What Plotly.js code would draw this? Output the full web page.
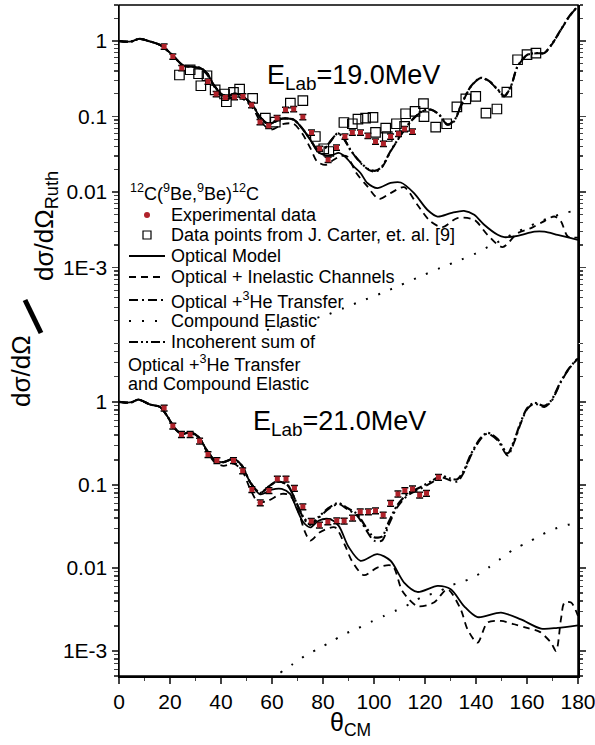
<!DOCTYPE html>
<html><head><meta charset="utf-8">
<script src="https://cdn.plot.ly/plotly-3.0.1.min.js"></script>
<style>body{margin:0;background:#fff}</style>
</head><body><div id="chart" style="width:595px;height:745px"></div>
<script>
// ===== Top panel: E_Lab = 19.0 MeV =====
const top_exp_x = [17.7,21.1,24.6,34.9,38.1,41.7,45.3,48.6,52.0,55.3,58.7,62.0,65.3,68.5,72.1,75.5,78.7,82.0,85.3,88.6,91.5,94.7,97.6,100.6,103.7,106.5,109.6,112.0,115.1];
const top_exp_y = [0.848,0.625,0.438,0.292,0.199,0.179,0.181,0.185,0.142,0.085,0.0755,0.0955,0.123,0.126,0.0985,0.0616,0.0375,0.0268,0.039,0.0545,0.0616,0.0616,0.0557,0.0468,0.0436,0.0545,0.0592,0.0683,0.0635];

const top_carter_x = [23.7,27.9,31.2,32.1,34.5,37.7,41.4,42.1,44.9,47.3,52.4,57.4,61.3,67.2,72.1,77.0,80.3,82.3,88.2,91.5,93.7,96.7,99.6,100.6,104.6,105.2,108.8,112.0,112.4,116.1,119.4,119.6,124.2,128.5,132.5,136.0,139.9,143.9,148.2,152.1,156.3,160.0,163.5];
const top_carter_y = [0.355,0.417,0.369,0.256,0.347,0.226,0.199,0.157,0.209,0.231,0.174,0.0955,0.0846,0.151,0.163,0.0545,0.0375,0.0345,0.0835,0.0803,0.0927,0.0955,0.0973,0.0616,0.0705,0.0545,0.0803,0.074,0.109,0.117,0.148,0.100,0.0726,0.0803,0.134,0.171,0.185,0.111,0.126,0.211,0.565,0.659,0.693];

const top_om_x = [0,3,5,8,12,16,19.4,22.7,25.3,28.6,31.8,34.5,37.1,39.7,42.3,44.9,47.6,50.2,52.8,55.1,58.6,61,64,68.5,71.8,75.1,77.7,80.3,83.6,86.2,88.8,92.1,94.7,97.4,101.3,106.5,110.5,115.7,121,124.9,130.1,135.3,139.3,143.2,148.5,151.1,156.3,162.9,166.8,172,177.3,180];
const top_om_y = [1.0,0.98,0.99,1.07,0.99,0.89,0.73,0.565,0.47,0.46,0.44,0.377,0.264,0.205,0.185,0.2,0.195,0.167,0.136,0.1,0.08,0.085,0.094,0.091,0.07,0.049,0.035,0.031,0.031,0.033,0.029,0.0218,0.0179,0.0132,0.0113,0.0132,0.0134,0.0097,0.0058,0.00475,0.00527,0.00565,0.0050,0.00369,0.00272,0.00253,0.00264,0.0030,0.0030,0.00272,0.00246,0.00233];

const top_inel_x = [0,3,5,8,12,16,19.4,22.7,25.3,28.6,31.8,34.5,37.1,39.7,42.3,44.9,47.6,50.2,52.8,55.1,59.4,64.6,68.5,71.8,75.1,77.7,81,84.2,87,89.5,93,97.4,101.9,106.5,111.8,117,122.2,126.8,132.7,139.3,144.5,150.4,156.3,161.6,166,170.7,173.3,176,180];
const top_inel_y = [1.0,0.98,0.99,1.07,0.99,0.89,0.73,0.565,0.47,0.45,0.43,0.36,0.255,0.195,0.17,0.18,0.18,0.155,0.125,0.09,0.067,0.08,0.08,0.06,0.038,0.0254,0.0229,0.0268,0.030,0.0296,0.018,0.0119,0.0081,0.0097,0.0116,0.0068,0.00408,0.00344,0.00453,0.0043,0.00272,0.00187,0.00286,0.00334,0.0040,0.00475,0.0041,0.00258,0.0025];

const top_he3_x = [0,3,5,8,12,16,19.4,22.7,25.3,28.6,31.8,34.5,37.1,39.7,42.3,44.9,47.6,50.2,52.8,55.1,58.6,61,64,68.5,71.8,75.1,77.7,80,82.5,85.8,88,90.8,94.7,97.9,100.6,103,106.5,109.8,112.4,115.7,119,122.3,125.5,128.8,131.4,134,138,141.9,145.2,148.5,151.1,153.7,156.3,160.3,164.2,166.8,170.1,173.3,176.6,180];
const top_he3_y = [1.0,0.98,0.99,1.07,0.99,0.89,0.73,0.565,0.47,0.46,0.44,0.377,0.264,0.205,0.185,0.2,0.195,0.167,0.136,0.1,0.08,0.085,0.094,0.091,0.07,0.049,0.037,0.036,0.045,0.06,0.052,0.036,0.0244,0.0197,0.0187,0.021,0.0345,0.0519,0.0704,0.0955,0.117,0.123,0.106,0.0779,0.0862,0.136,0.25,0.324,0.292,0.226,0.185,0.25,0.461,0.659,0.69,0.69,0.94,1.41,2.12,2.9];

const top_sum_x = top_he3_x;
const top_sum_y = [1.0,0.98,0.99,1.07,0.99,0.89,0.73,0.565,0.47,0.46,0.44,0.377,0.264,0.205,0.185,0.2,0.195,0.167,0.136,0.1,0.08,0.085,0.094,0.091,0.07,0.049,0.037,0.036,0.045,0.06,0.052,0.036,0.0248,0.020,0.0192,0.0215,0.035,0.0525,0.071,0.096,0.118,0.124,0.107,0.079,0.088,0.138,0.252,0.326,0.294,0.229,0.188,0.253,0.464,0.663,0.694,0.695,0.945,1.42,2.13,2.91];

const top_ce_x = [58,66,74,82,88,95,103,110,118,126,134,140,145,150,155,160,165,170,175,180];
const top_ce_y = [1.5e-4,1.7e-4,2.0e-4,2.4e-4,2.9e-4,3.6e-4,4.6e-4,5.8e-4,7.6e-4,9.9e-4,1.27e-3,1.55e-3,1.9e-3,2.3e-3,2.86e-3,3.4e-3,4.1e-3,4.7e-3,5.3e-3,5.8e-3];

// ===== Bottom panel: E_Lab = 21.0 MeV =====
const bot_exp_x = [17.7,21.1,24.5,27.9,31.6,34.9,38.4,44.9,48.5,52.1,55.4,58.8,62.1,65.5,68.8,72.1,75.4,78.6,81.9,85.4,88.3,91.6,94.6,97.8,100.6,103.6,106.5,109.4,112.1,115.1,117.9,120.6,125.3];
const bot_exp_y = [0.846,0.513,0.406,0.406,0.338,0.233,0.197,0.197,0.148,0.088,0.061,0.0855,0.118,0.118,0.0914,0.0547,0.0365,0.0329,0.036,0.0371,0.0368,0.04,0.0476,0.0476,0.049,0.0435,0.0601,0.078,0.0855,0.0896,0.0758,0.0795,0.124];

const bot_om_x = [0,3,5,7.6,12.2,16.1,18.7,22,24.6,27.9,31.2,34.5,37.7,41,44.9,48.2,51.4,55.4,59.9,63.8,67.1,69.7,72.3,75,78.2,82.2,86.1,90,94.7,101.3,106.5,111.8,117,124.9,130.1,135.3,140.6,149.8,157.6,165.5,172,180];
const bot_om_y = [1.0,0.98,0.99,1.065,0.93,0.87,0.69,0.476,0.41,0.43,0.378,0.26,0.197,0.188,0.206,0.171,0.108,0.077,0.0879,0.0896,0.078,0.0514,0.0355,0.0308,0.037,0.0389,0.0323,0.018,0.0122,0.0147,0.0122,0.00668,0.00514,0.00608,0.00554,0.00348,0.00256,0.0029,0.0024,0.00186,0.0019,0.00204];

const bot_inel_x = [0,3,5,7.6,12.2,16.1,18.7,22,24.6,27.9,31.2,34.5,37.7,41,44.9,48.2,51.4,54.6,58.6,63.8,67,70.4,73,75,78.8,84.7,88.7,91.3,96,101.3,107.2,111.1,117,123.5,128.8,134,136.7,140.6,144.5,149.8,155,160,165,169.4,171.4,173.3,174.7,177.3,180];
const bot_inel_y = [1.0,0.98,0.99,1.065,0.93,0.87,0.69,0.476,0.41,0.42,0.37,0.25,0.185,0.17,0.18,0.15,0.09,0.0619,0.065,0.078,0.075,0.0469,0.0269,0.0213,0.0269,0.0308,0.0185,0.0122,0.0082,0.0101,0.0106,0.00528,0.00348,0.00383,0.00554,0.00318,0.00182,0.00126,0.0022,0.0023,0.0021,0.0019,0.0017,0.00126,0.001,0.0024,0.00383,0.00383,0.00264];

const bot_he3_x = [0,3,5,7.6,12.2,16.1,18.7,22,24.6,27.9,31.2,34.5,37.7,41,44.9,48.2,51.4,55.4,58.6,62,66,69.7,72.3,75,78.2,82.2,86.1,89.5,93.4,96.7,100,103.1,105.9,109.1,113.1,118.2,122.9,126.2,130.1,132.7,135.3,138,141.9,144.5,148.5,152.4,155,157.5,160.2,162.9,166.8,169.4,173.3,176.6,180];
const bot_he3_y = [1.0,0.98,0.99,1.065,0.93,0.87,0.69,0.476,0.41,0.43,0.378,0.26,0.197,0.188,0.206,0.171,0.108,0.08,0.095,0.11,0.1,0.06,0.04,0.033,0.04,0.0514,0.059,0.051,0.0426,0.0294,0.0213,0.0213,0.0338,0.0538,0.0743,0.0896,0.108,0.124,0.113,0.11,0.143,0.226,0.36,0.414,0.343,0.226,0.329,0.547,0.83,0.95,0.87,1.0,1.74,2.53,3.34];

const bot_sum_x = bot_he3_x;
const bot_sum_y = [1.0,0.98,0.99,1.065,0.93,0.87,0.69,0.476,0.41,0.43,0.378,0.26,0.197,0.188,0.206,0.171,0.108,0.08,0.095,0.11,0.1,0.06,0.041,0.034,0.041,0.0527,0.0605,0.0527,0.0445,0.0314,0.0235,0.0238,0.0365,0.0568,0.0778,0.0938,0.113,0.129,0.119,0.117,0.15,0.234,0.369,0.424,0.356,0.24,0.346,0.567,0.85,0.975,0.895,1.03,1.77,2.56,3.37];

const bot_ce_x = [63.3,68.3,73.1,78.3,83.6,88.2,93.4,98.7,103.9,109.1,114.3,119.6,124.9,129.4,134.7,139.9,144.9,149.8,155,160.3,165.5,170.7,175.7,180];
const bot_ce_y = [5.5e-4,7.0e-4,8.8e-4,1.07e-3,1.31e-3,1.59e-3,1.86e-3,2.23e-3,2.64e-3,3.12e-3,3.72e-3,4.6e-3,5.06e-3,6.08e-3,6.8e-3,8.0e-3,0.0101,0.013,0.0169,0.0203,0.0249,0.0294,0.0329,0.035];

// ===== tick labels =====
const xTicks = [0,20,40,60,80,100,120,140,160,180];
const yTickVals = [1e-3,1e-2,0.1,1];
const yTickText = ['1E-3','0.01','0.1','1'];

// ===== geometry helpers =====
const W=595,H=745,ML=119,MR=17,MT=5,MB=69;
const PW=W-ML-MR, PH=H-MT-MB;
const px = x => (x-ML)/PW;
const py = y => (H-MB-y)/PH;
const split = py(343.5);
const FONT = 'Arial, "Liberation Sans", Helvetica, sans-serif';

function minorLog(lo, hi){
  const out=[];
  for(let e=-5;e<=1;e++){for(let m=2;m<=9;m++){const v=m*Math.pow(10,e); if(v>=lo && v<=hi) out.push(v);}}
  return out;
}
const xMinor=[]; for(let v=10; v<180; v+=20) xMinor.push(v);

const RED='#b0222a';
const DASH_LINE='7px,5px';
const DASHDOT='9px,4px,2px,4px';
const DASHDOTDOT='9px,3px,2px,3px,2px,3px';
const DOTS='2px,11px';

function curve(x,y,ax,dash,w){
  return {x:x,y:y,yaxis:ax,type:'scatter',mode:'lines',line:{color:'#000',width:w,dash:dash,shape:'spline',smoothing:0.8},hoverinfo:'skip'};
}
function exp(x,y,ax){
  return {x:x,y:y,yaxis:ax,type:'scatter',mode:'markers',
    marker:{symbol:'square',size:5,color:RED,line:{width:0}},
    error_y:{type:'percent',value:8,color:'#000',thickness:1.5,width:3.5}};
}
function carter(x,y,ax){
  return {x:x,y:y,yaxis:ax,type:'scatter',mode:'markers',
    marker:{symbol:'square-open',size:9.5,color:'#000',line:{width:1.2,color:'#000'}}};
}

const traces = [
  curve(top_ce_x,top_ce_y,'y2',DOTS,2),
  curve(top_om_x,top_om_y,'y2','solid',1.8),
  curve(top_inel_x,top_inel_y,'y2',DASH_LINE,1.8),
  curve(top_he3_x,top_he3_y,'y2',DASHDOT,2),
  curve(top_sum_x,top_sum_y,'y2',DASHDOTDOT,2.2),
  carter(top_carter_x,top_carter_y,'y2'),
  exp(top_exp_x,top_exp_y,'y2'),
  curve(bot_ce_x,bot_ce_y,'y',DOTS,2),
  curve(bot_om_x,bot_om_y,'y','solid',1.8),
  curve(bot_inel_x,bot_inel_y,'y',DASH_LINE,1.8),
  curve(bot_he3_x,bot_he3_y,'y',DASHDOT,2),
  curve(bot_sum_x,bot_sum_y,'y',DASHDOTDOT,2.2),
  exp(bot_exp_x,bot_exp_y,'y')
];

const yCommon = {
  type:'log', tickvals:yTickVals, ticktext:yTickText, ticks:'outside', ticklen:6, tickwidth:1.3,
  showline:true, linewidth:1.5, linecolor:'#000', mirror:'ticks', showgrid:false, zeroline:false,
  tickfont:{family:FONT,size:21,color:'#000'}
};

const shapes = [
  {type:'rect',xref:'paper',yref:'paper',x0:0,x1:1,y0:0,y1:1,line:{color:'#000',width:1.5}}
];
const annotations = [];
function txt(x,y,t,size,anchor){
  annotations.push({xref:'paper',yref:'paper',x:px(x),y:py(y),text:t,showarrow:false,xanchor:anchor||'left',yanchor:'middle',font:{family:FONT,size:size,color:'#000'}});
}
function lineSample(y,dash,w){
  shapes.push({type:'line',xref:'paper',yref:'paper',x0:px(129),x1:px(165),y0:py(y),y1:py(y),line:{color:'#000',width:w,dash:dash}});
}
// legend block
txt(128,193,'<sup>12</sup>C(<sup>9</sup>Be,<sup>9</sup>Be)<sup>12</sup>C',18);
shapes.push({type:'circle',xref:'paper',yref:'paper',x0:px(144),x1:px(150),y0:py(218),y1:py(212),fillcolor:RED,line:{width:0}});
txt(169,215,'Experimental data',18);
shapes.push({type:'rect',xref:'paper',yref:'paper',x0:px(143),x1:px(151),y0:py(239),y1:py(231),line:{color:'#000',width:1.2}});
txt(169,235,'Data points from J. Carter, et. al. [9]',18);
lineSample(256,'solid',1.8); txt(169,256,'Optical Model',18);
lineSample(277,DASH_LINE,1.8); txt(169,277,'Optical + Inelastic Channels',18);
lineSample(300,DASHDOT,2); txt(169,300,'Optical +<sup>3</sup>He Transfer',18);
lineSample(321,DOTS,2); txt(169,321,'Compound Elastic',18);
lineSample(342,DASHDOTDOT,2.2); txt(169,342,'Incoherent sum of',18);
txt(126,363,'Optical +<sup>3</sup>He Transfer',18);
txt(126,384,'and Compound Elastic',18);

// energy labels
txt(265,77,'E<sub>Lab</sub>=19.0MeV',27);
txt(251,423,'E<sub>Lab</sub>=21.0MeV',27);

// y title pieces (slash drawn as a thick stroke)
annotations.push({xref:'paper',yref:'paper',x:px(21),y:py(371),text:'dσ/dΩ',textangle:-90,showarrow:false,xanchor:'center',yanchor:'middle',font:{family:FONT,size:26,color:'#000'}});
shapes.push({type:'line',xref:'paper',yref:'paper',x0:px(25),y0:py(300),x1:px(41),y1:py(333),line:{color:'#000',width:5}});
annotations.push({xref:'paper',yref:'paper',x:px(45),y:py(226),text:'dσ/dΩ<sub>Ruth</sub>',textangle:-90,showarrow:false,xanchor:'center',yanchor:'middle',font:{family:FONT,size:26,color:'#000'}});

// x title
annotations.push({xref:'paper',yref:'paper',x:px(350),y:py(724),text:'θ<sub>CM</sub>',showarrow:false,xanchor:'center',yanchor:'middle',font:{family:FONT,size:25,color:'#000'}});

const layout = {
  width:W,height:H,margin:{l:ML,r:MR,t:MT,b:MB},
  paper_bgcolor:'#fff',plot_bgcolor:'#fff',showlegend:false,
  font:{family:FONT,size:21,color:'#000'},
  xaxis:{range:[0,180],tickvals:xTicks,ticks:'outside',ticklen:6,tickwidth:1.3,ticklabeloverflow:'allow',
    minor:{tickvals:xMinor,ticks:'outside',ticklen:3.5,tickwidth:1.2},
    showline:true,linewidth:1.5,linecolor:'#000',showgrid:false,zeroline:false,
    tickfont:{family:FONT,size:21,color:'#000'}},
  yaxis:Object.assign({},yCommon,{domain:[0,split-0.0005],range:[Math.log10(5e-4),Math.log10(5)],
    minor:{tickvals:minorLog(5e-4,5),ticks:'outside',ticklen:3.5,tickwidth:1.2}}),
  yaxis2:Object.assign({},yCommon,{domain:[split+0.0005,1],range:[-4,Math.log10(3)],
    minor:{tickvals:minorLog(1e-4,3),ticks:'outside',ticklen:3.5,tickwidth:1.2}}),
  shapes:shapes, annotations:annotations
};

Plotly.newPlot('chart',traces,layout,{staticPlot:true,displayModeBar:false});
</script></body></html>
